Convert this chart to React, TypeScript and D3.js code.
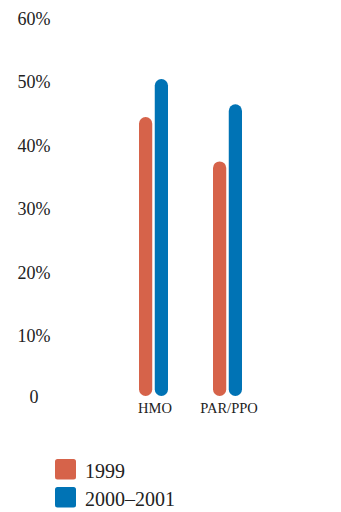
import React from "react";
import * as d3 from "d3";

// Plan types on the x axis
const categories = ["HMO", "PAR/PPO"];
// Survey periods (legend order)
const seriesNames = ["1999", "2000–2001"];
// Percent values per series, in category order
const values1999 = [44, 37];
const values2000 = [50, 46];
// Y axis ticks
const yTicks = [0, 10, 20, 30, 40, 50, 60];

const colors = ["#D6634A", "#0073B5"];
const serif = "'Liberation Serif', 'Times New Roman', serif";

export default function App() {
  const width = 341;
  const height = 512;

  const y = d3.scaleLinear().domain([0, 60]).range([396, 15.6]);
  const xGroup = d3.scalePoint<string>().domain(categories).range([153.5, 227.5]);
  const xInner = d3
    .scaleBand<string>()
    .domain(seriesNames)
    .range([-14.5, 14.5])
    .paddingInner(0.16);
  const bw = xInner.bandwidth();

  const seriesValues = [values1999, values2000];

  return (
    <svg
      width={width}
      height={height}
      style={{ position: "absolute", left: 0, top: 0, display: "block", background: "#fff" }}
    >
      {/* y tick labels */}
      {yTicks.map((t) => (
        <text
          key={t}
          x={34}
          y={y(t)}
          dy="0.35em"
          textAnchor="middle"
          fontFamily={serif}
          fontSize={18}
          fill="#222"
          transform={`translate(0, ${t === 0 ? 0.5 : 3})`}
        >
          {t === 0 ? "0" : `${t}%`}
        </text>
      ))}

      {/* bars */}
      {categories.map((c, ci) =>
        seriesNames.map((s, si) => {
          const v = seriesValues[si][ci];
          const x0 = (xGroup(c) ?? 0) + (xInner(s) ?? 0);
          const top = y(v);
          return (
            <rect
              key={c + s}
              x={x0}
              y={top}
              width={bw}
              height={y(0) - top}
              rx={bw / 2}
              ry={bw / 2}
              fill={colors[si]}
            />
          );
        })
      )}

      {/* category labels */}
      {categories.map((c) => (
        <text
          key={c}
          x={(xGroup(c) ?? 0) + 1.5}
          y={413}
          textAnchor="middle"
          fontFamily={serif}
          fontSize={14.5}
          fill="#222"
        >
          {c}
        </text>
      ))}

      {/* legend */}
      {seriesNames.map((s, i) => (
        <g key={s} transform={`translate(55, ${459 + i * 28})`}>
          <rect width={21} height={20.5} rx={2.5} fill={colors[i]} />
          <text x={30} y={19} fontFamily={serif} fontSize={20} fill="#222">
            {s}
          </text>
        </g>
      ))}
    </svg>
  );
}
